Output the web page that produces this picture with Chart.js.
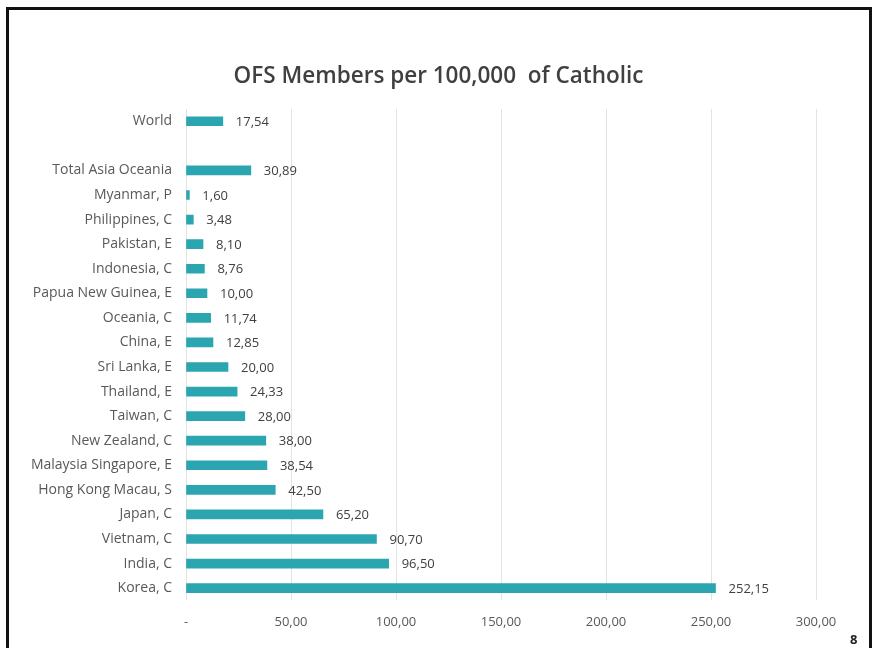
<!DOCTYPE html>
<html>
<head>
<meta charset="utf-8">
<script src="https://cdn.jsdelivr.net/npm/chart.js@4/dist/chart.umd.min.js"></script>
<style>
  body { margin: 0; background: #fff; overflow: hidden; }
  #frame { position: absolute; left: 6px; top: 7px; width: 860px; height: 660px; border: 3px solid #111; }
  #wrap { position: absolute; left: 0; top: 0; width: 877px; height: 648px; }
  #page { position: absolute; left: 850px; top: 630px; font: bold 13px "Open Sans", sans-serif; color: #222; }
</style>
</head>
<body>
<div id="frame"></div>
<div id="wrap"><canvas id="chart"></canvas></div>
<div id="page">8</div>
<script>
// categories, top to bottom (blank row separates World from the rest)
const categories = [
  'World', '', 'Total Asia Oceania', 'Myanmar, P', 'Philippines, C', 'Pakistan, E',
  'Indonesia, C', 'Papua New Guinea, E', 'Oceania, C', 'China, E', 'Sri Lanka, E',
  'Thailand, E', 'Taiwan, C', 'New Zealand, C', 'Malaysia Singapore, E',
  'Hong Kong Macau, S', 'Japan, C', 'Vietnam, C', 'India, C', 'Korea, C'
];
const membersPer100k = [
  17.54, null, 30.89, 1.60, 3.48, 8.10, 8.76, 10.00, 11.74, 12.85, 20.00,
  24.33, 28.00, 38.00, 38.54, 42.50, 65.20, 90.70, 96.50, 252.15
];
const xTicks = [0, 50, 100, 150, 200, 250, 300];
const titleText = 'OFS Members per 100,000  of Catholic';

const fmt = v => v.toFixed(2).replace('.', ',');
const font = '"Open Sans", "Noto Sans", sans-serif';

// title centred on the whole page, value labels at bar ends
const extras = {
  id: 'extras',
  afterDraw(chart) {
    const ctx = chart.ctx;
    ctx.save();
    ctx.font = '600 22.5px ' + font;
    ctx.fillStyle = '#404040';
    ctx.textAlign = 'center';
    ctx.textBaseline = 'middle';
    ctx.fillText(titleText, chart.width / 2, 77);
    ctx.restore();
  },
  afterDatasetsDraw(chart) {
    const ctx = chart.ctx;
    const meta = chart.getDatasetMeta(0);
    ctx.save();
    ctx.font = '13px ' + font;
    ctx.fillStyle = '#404040';
    ctx.textBaseline = 'middle';
    meta.data.forEach((bar, i) => {
      const v = membersPer100k[i];
      if (v == null) return;
      ctx.fillText(fmt(v), bar.x + 13, bar.y + 1);
    });
    ctx.restore();
  }
};

new Chart(document.getElementById('chart'), {
  type: 'bar',
  data: {
    labels: categories,
    datasets: [{
      data: membersPer100k,
      backgroundColor: '#2ba6b0',
      barThickness: 9
    }]
  },
  options: {
    indexAxis: 'y',
    responsive: true,
    maintainAspectRatio: false,
    animation: false,
    layout: { padding: { top: 109, right: 61, bottom: 4, left: 0 } },
    plugins: {
      legend: { display: false },
      tooltip: { enabled: false },
      title: { display: false }
    },
    scales: {
      x: {
        min: 0,
        max: 300,
        afterBuildTicks: s => { s.ticks = xTicks.map(v => ({ value: v })); },
        grid: { color: '#e3e3e3', drawTicks: false },
        border: { display: false },
        ticks: {
          color: '#595959',
          font: { family: font, size: 13 },
          padding: 14,
          callback: v => v === 0 ? '-' : fmt(v)
        }
      },
      y: {
        afterFit: s => { s.width = 186; },
        grid: { display: false, drawTicks: false },
        border: { display: false },
        ticks: {
          color: '#595959',
          font: { family: font, size: 14 },
          padding: 14,
          autoSkip: false
        }
      }
    }
  },
  plugins: [extras]
});
</script>
</body>
</html>
